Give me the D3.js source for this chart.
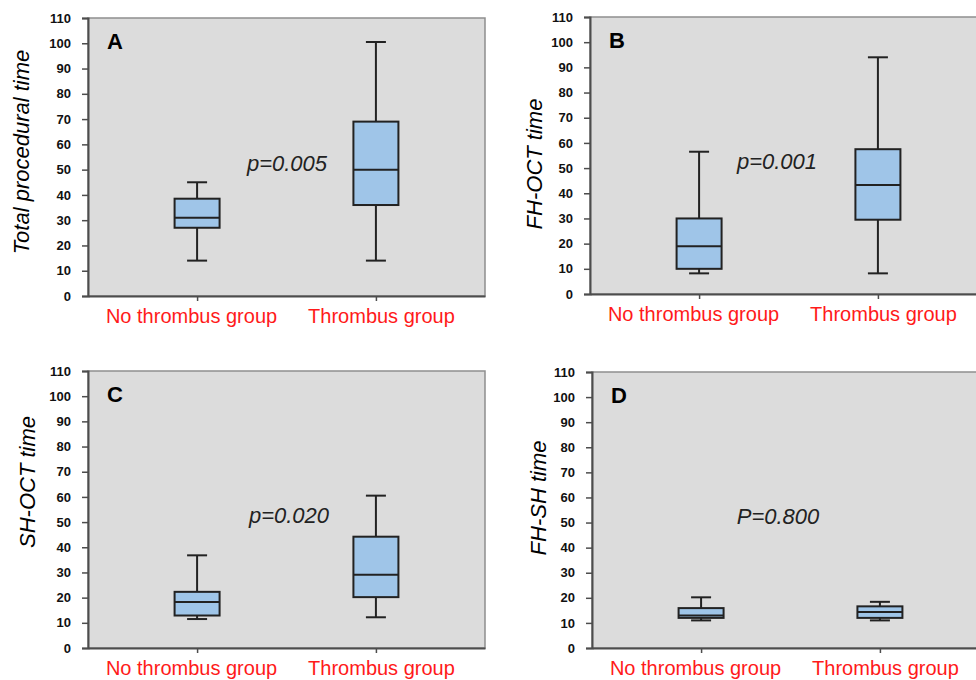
<!DOCTYPE html>
<html>
<head>
<meta charset="utf-8">
<script src="https://cdnjs.cloudflare.com/ajax/libs/d3/7.8.5/d3.min.js"></script>
<style>
  body { margin: 0; background: #fff; }
  svg { display: block; font-family: "Liberation Sans", Arial, sans-serif; }
</style>
</head>
<body>
<div id="chart"></div>
<script>
// data
const groups = ["No thrombus group", "Thrombus group"];
const panelLetters = ["A", "B", "C", "D"];
const yTitles = ["Total procedural time", "FH-OCT time", "SH-OCT time", "FH-SH time"];
const pTexts = ["p=0.005", "p=0.001", "p=0.020", "P=0.800"];
const yTicks = [0, 10, 20, 30, 40, 50, 60, 70, 80, 90, 100, 110];

// [min, q1, median, q3, max] for each group
const totalTime = [[14, 27, 31, 38.5, 45], [14, 36, 50, 69, 100.5]];
const fhOctTime = [[8.2, 10, 19, 30, 56.5], [8.2, 29.5, 43.3, 57.5, 94]];
const shOctTime = [[11.5, 12.9, 18.3, 22.3, 36.8], [12.2, 20.2, 29.1, 44.2, 60.5]];
const fhShTime = [[11, 12, 13, 15.9, 20.2], [11, 12, 14.3, 16.6, 18.4]];

const panelData = [totalTime, fhOctTime, shOctTime, fhShTime];

// layout (pixels)
const W = 976, H = 680;
const plotW = 397;
const panels = [
  {left: 88, top: 18, bottom: 296, titleX: 21, titleY: 152, pDx: 199},
  {left: 590, top: 17, bottom: 294, titleX: 534, titleY: 164, pDx: 187},
  {left: 88, top: 371, bottom: 648, titleX: 27, titleY: 482, pDx: 201},
  {left: 592, top: 372, bottom: 648, titleX: 538, titleY: 498, pDx: 186}
];

const svg = d3.select("#chart").append("svg")
  .attr("width", W)
  .attr("height", H);

panels.forEach(function(p, k) {
  const stats = panelData[k];

  const x = d3.scalePoint()
    .domain(groups)
    .range([p.left, p.left + plotW])
    .padding(0.61);
  const xLab = d3.scalePoint()
    .domain(groups)
    .range([p.left, p.left + plotW])
    .padding(0.545);
  const y = d3.scaleLinear()
    .domain([0, 110])
    .range([p.bottom, p.top]);

  const g = svg.append("g");

  // grey plot area
  g.append("rect")
    .attr("x", p.left)
    .attr("y", p.top)
    .attr("width", plotW)
    .attr("height", p.bottom - p.top)
    .attr("fill", "#dcdcdc")
    .attr("stroke", "#8e8e8e")
    .attr("stroke-width", 1.5);

  // y axis
  const yAxis = d3.axisLeft(y)
    .tickValues(yTicks)
    .tickSize(6)
    .tickPadding(11);
  const ya = g.append("g")
    .attr("transform", "translate(" + p.left + ",0)")
    .call(yAxis);
  ya.select(".domain").attr("stroke", "#4d4d4d").attr("stroke-width", 2);
  ya.selectAll(".tick line").attr("stroke", "#4d4d4d").attr("stroke-width", 1.5);
  ya.selectAll(".tick text")
    .attr("fill", "#111")
    .attr("font-size", 13)
    .attr("font-weight", "bold")
    .attr("font-family", "Liberation Sans, Arial, sans-serif");

  // x axis
  const xAxis = d3.axisBottom(x)
    .tickSize(5)
    .tickSizeOuter(0)
    .tickFormat("");
  const xa = g.append("g")
    .attr("transform", "translate(0," + p.bottom + ")")
    .call(xAxis);
  xa.select(".domain").attr("stroke", "#4d4d4d").attr("stroke-width", 2);
  xa.selectAll(".tick line").attr("stroke", "#4d4d4d").attr("stroke-width", 1.5);

  // red group labels
  g.selectAll(".xlab")
    .data(groups)
    .enter()
    .append("text")
    .attr("class", "xlab")
    .attr("x", d => xLab(d))
    .attr("y", p.bottom + 27)
    .attr("text-anchor", "middle")
    .attr("font-size", 20)
    .attr("fill", "#ff1a1a")
    .text(d => d);

  // boxes
  const boxW = 45, capW = 20;
  groups.forEach(function(grp, i) {
    const s = stats[i];
    const cx = x(grp);
    // whiskers
    g.append("line")
      .attr("x1", cx).attr("x2", cx)
      .attr("y1", y(s[0])).attr("y2", y(s[4]))
      .attr("stroke", "#222").attr("stroke-width", 2);
    [s[0], s[4]].forEach(function(v) {
      g.append("line")
        .attr("x1", cx - capW / 2).attr("x2", cx + capW / 2)
        .attr("y1", y(v)).attr("y2", y(v))
        .attr("stroke", "#222").attr("stroke-width", 2);
    });
    g.append("rect")
      .attr("x", cx - boxW / 2)
      .attr("y", y(s[3]))
      .attr("width", boxW)
      .attr("height", y(s[1]) - y(s[3]))
      .attr("fill", "#9fc5e8")
      .attr("stroke", "#222")
      .attr("stroke-width", 2);
    g.append("line")
      .attr("x1", cx - boxW / 2).attr("x2", cx + boxW / 2)
      .attr("y1", y(s[2])).attr("y2", y(s[2]))
      .attr("stroke", "#222").attr("stroke-width", 2);
  });

  // panel letter
  g.append("text")
    .attr("x", p.left + 19)
    .attr("y", p.top + 31)
    .attr("font-size", 22)
    .attr("font-weight", "bold")
    .attr("fill", "#000")
    .text(panelLetters[k]);

  // p value
  g.append("text")
    .attr("x", p.left + p.pDx)
    .attr("y", y(52.5))
    .attr("dy", "0.35em")
    .attr("text-anchor", "middle")
    .attr("font-size", 22)
    .attr("font-style", "italic")
    .attr("fill", "#222")
    .text(pTexts[k]);

  // y title
  g.append("text")
    .attr("transform", "translate(" + p.titleX + "," + p.titleY + ") rotate(-90)")
    .attr("text-anchor", "middle")
    .attr("dy", "0.35em")
    .attr("font-size", 22)
    .attr("font-style", "italic")
    .attr("fill", "#000")
    .text(yTitles[k]);
});
</script>
</body>
</html>
